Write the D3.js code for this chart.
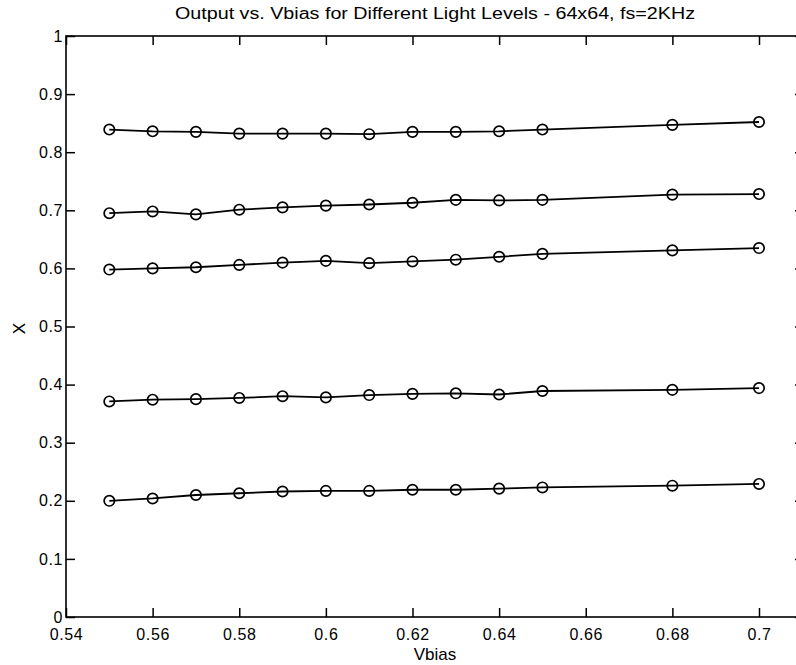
<!DOCTYPE html>
<html>
<head>
<meta charset="utf-8">
<script src="https://cdn.jsdelivr.net/npm/d3@7"></script>
<style>
  body { margin: 0; background: #fff; }
  svg { display: block; font-family: "Liberation Sans", Arial, sans-serif; }
</style>
</head>
<body>
<svg id="chart"></svg>
<script>
const width = 796;
const height = 665;

// Vbias sweep points (x) and the output X for each light level
const vbias = [0.55, 0.56, 0.57, 0.58, 0.59, 0.60, 0.61, 0.62, 0.63, 0.64, 0.65, 0.68, 0.70];
const level1 = [0.839, 0.836, 0.835, 0.832, 0.832, 0.832, 0.831, 0.835, 0.835, 0.836, 0.839, 0.847, 0.852];
const level2 = [0.695, 0.698, 0.693, 0.701, 0.705, 0.708, 0.710, 0.713, 0.718, 0.717, 0.718, 0.727, 0.728];
const level3 = [0.598, 0.600, 0.602, 0.606, 0.610, 0.613, 0.609, 0.612, 0.615, 0.620, 0.625, 0.631, 0.635];
const level4 = [0.371, 0.374, 0.375, 0.377, 0.380, 0.378, 0.382, 0.384, 0.385, 0.383, 0.389, 0.391, 0.394];
const level5 = [0.200, 0.204, 0.210, 0.213, 0.216, 0.217, 0.217, 0.219, 0.219, 0.221, 0.223, 0.226, 0.229];

const xTicks = [0.54, 0.56, 0.58, 0.6, 0.62, 0.64, 0.66, 0.68, 0.7];
const yTicks = [0, 0.1, 0.2, 0.3, 0.4, 0.5, 0.6, 0.7, 0.8, 0.9, 1];

const titleText = "Output vs. Vbias for Different Light Levels - 64x64, fs=2KHz";

const plotLeft = 66, plotRight = 804, plotTop = 36, plotBottom = 617;
const tickLen = 9;

const svg = d3.select("#chart")
  .attr("width", width)
  .attr("height", height);

const x = d3.scaleLinear().domain([0.54, 0.70]).range([plotLeft, 759]);
const y = d3.scaleLinear().domain([0, 1]).range([plotBottom, plotTop]);

// frame (right edge sits just past the picture, as in the scan)
svg.append("rect")
  .attr("x", plotLeft).attr("y", plotTop)
  .attr("width", plotRight - plotLeft).attr("height", plotBottom - plotTop)
  .attr("fill", "none")
  .attr("stroke", "#000")
  .attr("stroke-width", 1.6);

// inward ticks on all four sides
const bottomAxis = d3.axisBottom(x).tickValues(xTicks).tickSize(-tickLen).tickPadding(12)
  .tickFormat(d3.format("~g"));
const topAxis = d3.axisTop(x).tickValues(xTicks).tickSize(-tickLen).tickFormat("");
const leftAxis = d3.axisLeft(y).tickValues(yTicks).tickSize(-tickLen).tickPadding(3)
  .tickFormat(d3.format("~g"));
const rightAxis = d3.axisRight(y).tickValues(yTicks).tickSize(-tickLen).tickFormat("");

function styleAxis(g) {
  g.select(".domain").remove();
  g.selectAll(".tick line").attr("stroke", "#000").attr("stroke-width", 1.5);
  g.selectAll(".tick text")
    .attr("fill", "#000")
    .attr("font-size", "16px")
    .attr("letter-spacing", "0.6px");
}

svg.append("g").attr("transform", `translate(0,${plotBottom})`).call(bottomAxis).call(styleAxis);
svg.append("g").attr("transform", `translate(0,${plotTop})`).call(topAxis).call(styleAxis);
svg.append("g").attr("transform", `translate(${plotLeft},0)`).call(leftAxis).call(styleAxis);
svg.append("g").attr("transform", `translate(${plotRight},0)`).call(rightAxis).call(styleAxis);

// series
const allLevels = [level1, level2, level3, level4, level5];
const line = d3.line()
  .x((d, i) => x(vbias[i]))
  .y(d => y(d));

const series = svg.append("g");

series.selectAll("path.level")
  .data(allLevels)
  .join("path")
  .attr("class", "level")
  .attr("d", line)
  .attr("fill", "none")
  .attr("stroke", "#000")
  .attr("stroke-width", 1.8);

allLevels.forEach(vals => {
  series.append("g")
    .selectAll("circle")
    .data(vals)
    .join("circle")
    .attr("cx", (d, i) => x(vbias[i]))
    .attr("cy", d => y(d))
    .attr("r", 5.2)
    .attr("fill", "none")
    .attr("stroke", "#000")
    .attr("stroke-width", 1.7);
});

// labels
svg.append("text")
  .attr("x", (plotLeft + plotRight) / 2)
  .attr("y", 19)
  .attr("text-anchor", "middle")
  .attr("font-size", "16px")
  .attr("textLength", 520)
  .attr("lengthAdjust", "spacingAndGlyphs")
  .text(titleText);

svg.append("text")
  .attr("x", (plotLeft + plotRight) / 2)
  .attr("y", 660)
  .attr("text-anchor", "middle")
  .attr("font-size", "17px")
  .text("Vbias");

svg.append("text")
  .attr("transform", `translate(25, ${(plotTop + plotBottom) / 2 + 2}) rotate(-90)`)
  .attr("text-anchor", "middle")
  .attr("font-size", "17px")
  .text("X");
</script>
</body>
</html>
